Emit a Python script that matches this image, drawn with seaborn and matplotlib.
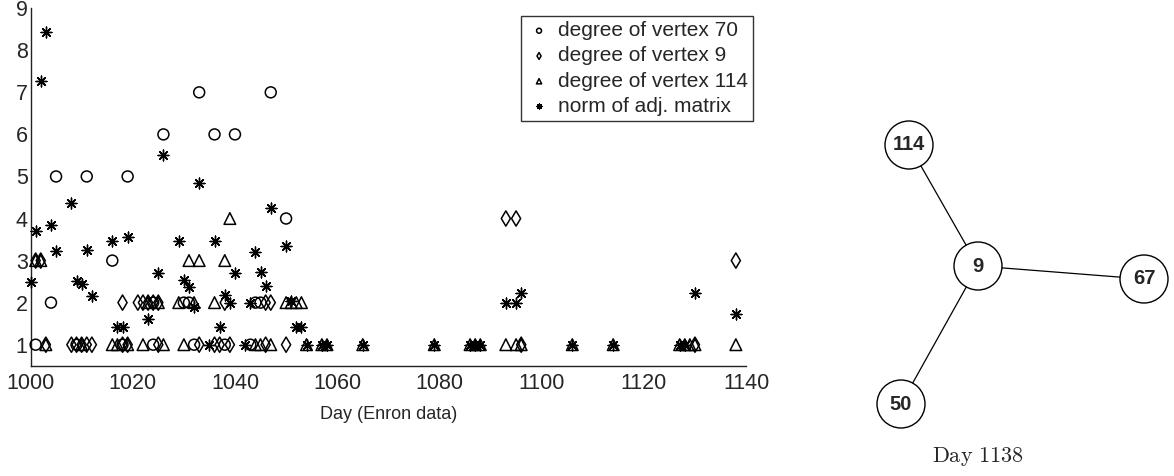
import matplotlib
matplotlib.use("Agg")
import matplotlib.pyplot as plt
import seaborn as sns
from matplotlib.patches import Circle

# dati (giorno, valore)
v70_days = [1001, 1004, 1005, 1011, 1016, 1019, 1026, 1033, 1036, 1040, 1047, 1050,
            1009, 1018, 1024, 1024, 1030, 1031, 1032, 1038, 1043, 1044, 1045]
v70_vals = [1, 2, 5, 5, 3, 5, 6, 7, 6, 6, 7, 4,
            1, 1, 1, 2, 2, 2, 1, 1, 1, 2, 2]

v9_days = [1001, 1002, 1003, 1008, 1009, 1010, 1011, 1012, 1018, 1019, 1018, 1021,
           1022, 1023, 1024, 1025, 1025, 1033, 1036, 1037, 1039, 1038, 1046, 1046,
           1047, 1050, 1093, 1095, 1096, 1130, 1138]
v9_vals = [3, 3, 1, 1, 1, 1, 1, 1, 1, 1, 2, 2,
           2, 2, 2, 2, 1, 1, 1, 1, 1, 2, 1, 2,
           2, 1, 4, 4, 1, 1, 3]

v114_days = [1001, 1002, 1003, 1010, 1016, 1017, 1019, 1022, 1026, 1023, 1025, 1029,
             1032, 1030, 1031, 1033, 1038, 1039, 1036, 1044, 1045, 1047, 1050, 1051,
             1052, 1053, 1054, 1057, 1058, 1065, 1079, 1086, 1087, 1088, 1093, 1095,
             1096, 1106, 1114, 1127, 1128, 1129, 1130, 1138]
v114_vals = [3, 3, 1, 1, 1, 1, 1, 1, 1, 2, 2, 2,
             2, 1, 3, 3, 3, 4, 2, 1, 1, 1, 2, 2,
             2, 2, 1, 1, 1, 1, 1, 1, 1, 1, 1, 1,
             1, 1, 1, 1, 1, 1, 1, 1]

norm_days = [1000, 1001, 1002, 1003, 1004, 1005, 1008, 1009, 1010, 1011, 1012, 1016,
             1017, 1018, 1019, 1023, 1025, 1026, 1029, 1030, 1031, 1032, 1033, 1035,
             1036, 1037, 1038, 1039, 1040, 1042, 1043, 1044, 1045, 1046, 1047, 1050,
             1051, 1052, 1053, 1054, 1057, 1058, 1065, 1079, 1086, 1087, 1088, 1093,
             1095, 1096, 1106, 1114, 1127, 1128, 1130, 1138]
norm_vals = [2.5, 3.7, 7.28, 8.44, 3.85, 3.22, 4.37, 2.52, 2.44, 3.25, 2.16, 3.47,
             1.42, 1.42, 3.56, 1.61, 2.7, 5.5, 3.47, 2.53, 2.36, 1.89, 4.84, 1,
             3.47, 1.42, 2.19, 2.0, 2.7, 1, 2, 3.21, 2.72, 2.4, 4.24, 3.34,
             2.05, 1.41, 1.41, 1, 1, 1, 1, 1, 1, 1, 1, 2.0,
             2.0, 2.23, 1, 1, 1, 1, 2.23, 1.72]

# grafo del giorno 1138
node_labels = ["114", "9", "67", "50"]
node_xy = [(909, 145), (978, 266), (1144, 279), (901, 404)]
edges = [(1, 0), (1, 2), (1, 3)]

sns.set_style("white")
plt.rcParams["font.family"] = ["Liberation Sans", "DejaVu Sans"]
plt.rcParams["mathtext.fontset"] = "cm"

fig = plt.figure(figsize=(11.74, 4.76), dpi=100)
ax = fig.add_axes([0.026, 0.2317, 0.6095, 0.751])

serie = [
    (v70_days, v70_vals, "o", 62, "degree of vertex 70"),
    (v9_days, v9_vals, "d", 60, "degree of vertex 9"),
    (v114_days, v114_vals, "^", 70, "degree of vertex 114"),
]
for d, v, m, s, lab in serie:
    sns.scatterplot(x=d, y=v, marker=m, s=s, facecolors="none", edgecolor="black",
                    linewidth=1.1, ax=ax, label=lab, clip_on=False, zorder=3)
sns.scatterplot(x=norm_days, y=norm_vals, marker=(8, 2, 0), s=60, color="black",
                linewidth=1.0, ax=ax, label="norm of adj. matrix", clip_on=False, zorder=3)

ax.set_xlim(1000, 1140)
ax.set_ylim(0.5, 9)
ax.set_xticks(range(1000, 1141, 20))
ax.set_yticks(range(1, 10))
ax.tick_params(direction="in", length=5, width=0.8, labelsize=15.5, color="#444444")
ax.tick_params(axis="y", pad=2)
ax.tick_params(axis="x", pad=5)
ax.set_xlabel("Day (Enron data)", fontsize=13, labelpad=9)
for sp in ["top", "right"]:
    ax.spines[sp].set_visible(False)
for sp in ["left", "bottom"]:
    ax.spines[sp].set_color("#222222")
    ax.spines[sp].set_linewidth(1.0)

leg = ax.legend(loc="upper right", bbox_to_anchor=(753 / 1174, 1 - 16 / 476),
                bbox_transform=fig.transFigure, borderaxespad=0, fontsize=15,
                markerscale=0.45, frameon=True, fancybox=False, handletextpad=0.3,
                handlelength=1.2, labelspacing=0.3, borderpad=0.25)
leg.get_frame().set_edgecolor("black")
leg.get_frame().set_linewidth(1.0)

# pannello a destra con il grafo
gax = fig.add_axes([0, 0, 1, 1])
gax.set_xlim(0, 1174)
gax.set_ylim(476, 0)
gax.axis("off")
r = 24
for a, b in edges:
    (x1, y1), (x2, y2) = node_xy[a], node_xy[b]
    dx, dy = x2 - x1, y2 - y1
    L = (dx ** 2 + dy ** 2) ** 0.5
    gax.plot([x1 + dx / L * r, x2 - dx / L * r], [y1 + dy / L * r, y2 - dy / L * r],
             color="black", lw=0.9)
for (x, y), lab in zip(node_xy, node_labels):
    gax.add_patch(Circle((x, y), r, facecolor="white", edgecolor="black", lw=1.0))
    gax.text(x, y, lab, ha="center", va="center", fontsize=14.5, fontweight="bold")
gax.text(978, 457, r"$\mathrm{Day\ 1138}$", ha="center", va="center", fontsize=16)

fig.savefig("out.png", dpi=100)
